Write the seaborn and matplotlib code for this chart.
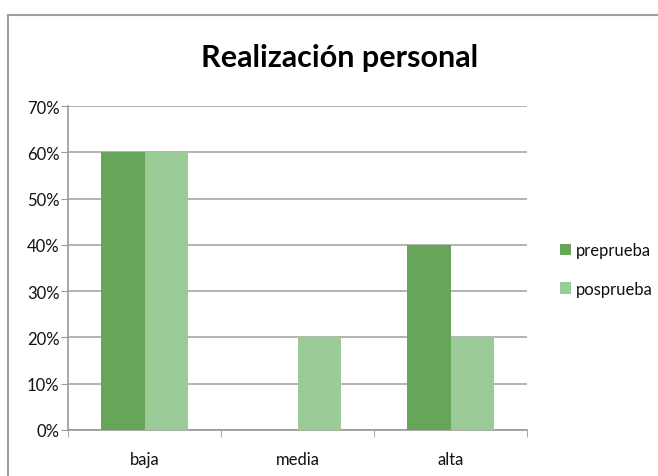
import pandas as pd
import matplotlib.pyplot as plt
import seaborn as sns
from matplotlib.patches import Rectangle
from matplotlib.ticker import PercentFormatter, FixedLocator

# Data
categories = ['baja', 'media', 'alta']
preprueba = [60, 0, 40]
posprueba = [60, 20, 20]
series_names = ['preprueba', 'posprueba']
colors = ['#67a65a', '#9bcb96']

df = pd.DataFrame({
    'nivel': categories * 2,
    'valor': preprueba + posprueba,
    'serie': [series_names[0]] * 3 + [series_names[1]] * 3,
})

sns.set_style('white')
plt.rcParams['font.family'] = ['Lato', 'DejaVu Sans']
plt.rcParams['text.color'] = '#111111'
plt.rcParams['xtick.color'] = '#111111'
plt.rcParams['ytick.color'] = '#111111'

fig = plt.figure(figsize=(6.58, 4.77), dpi=100)
ax = fig.add_axes([68 / 658, 1 - 431 / 477, (527 - 68) / 658, (431 - 107) / 477])

sns.barplot(data=df, x='nivel', y='valor', hue='serie', palette=colors,
            width=0.57, gap=0, ax=ax, saturation=1, edgecolor='none', zorder=3)

ax.set_ylim(0, 70)
ax.set_xlim(-0.5, 2.5)
ax.set_yticks(range(0, 71, 10))
ax.yaxis.set_major_formatter(PercentFormatter(decimals=0))
ax.yaxis.grid(True, color='#b3b3b3', linewidth=1.4, zorder=0)
ax.set_axisbelow(True)
ax.set_xlabel('')
ax.set_ylabel('')

for s in ['top', 'right']:
    ax.spines[s].set_visible(False)
for s in ['left', 'bottom']:
    ax.spines[s].set_color('#9a9a9a')
    ax.spines[s].set_linewidth(1.2)

ax.tick_params(axis='y', length=5, color='#9a9a9a', labelsize=12, pad=1, left=True)
ax.tick_params(axis='x', which='major', length=0, labelsize=12, pad=15)
ax.xaxis.set_minor_locator(FixedLocator([-0.5, 0.5, 1.5, 2.5]))
ax.tick_params(axis='x', which='minor', length=5, color='#9a9a9a', bottom=True)

ax.legend(handles=ax.get_legend_handles_labels()[0], labels=series_names,
          loc='center left', bbox_to_anchor=(1.04, 0.495), frameon=False,
          fontsize=12, handlelength=0.65, handleheight=0.65, handletextpad=0.3,
          labelspacing=1.35)

fig.text(340 / 658, 1 - 58 / 477, 'Realización personal', ha='center', va='center',
         fontsize=22, fontweight='bold', color='black')

# chart border (cropped in the reference)
fig.patches.append(Rectangle((8 / 658, -0.1), 1.2, 1 - 16 / 477 + 0.1,
                             transform=fig.transFigure, fill=False,
                             edgecolor='#a0a0a0', linewidth=1.5))

fig.savefig('out.png', dpi=100)
